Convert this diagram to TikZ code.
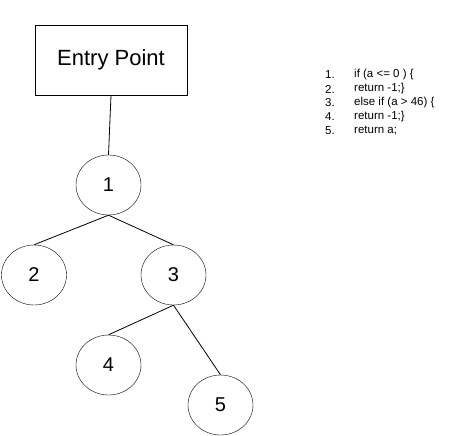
\documentclass[tikz,border=0pt]{standalone}
\usepackage{fontspec}
\setmainfont{Liberation Sans}
\usetikzlibrary{shapes.geometric}
\begin{document}
\begin{tikzpicture}[x=1pt,y=-1pt,
  vtx/.style={draw,ellipse,minimum width=65pt,minimum height=60pt,inner sep=0pt,font=\fontsize{20}{24}\selectfont},
  entrybox/.style={draw,rectangle,minimum width=152pt,minimum height=70pt,inner sep=0pt,font=\fontsize{22}{26}\selectfont},
  edge/.style={draw,line width=0.8pt},
  codenum/.style={anchor=west,inner sep=0pt,font=\fontsize{11.5}{13}\selectfont},
  codetxt/.style={anchor=west,inner sep=0pt,font=\fontsize{11.5}{13}\selectfont}]
\useasboundingbox (0,0) rectangle (463,436);
\node[entrybox] (entry) at (111,60) {Entry Point};
\node[vtx] (n1) at (108.5,185) {1};
\node[vtx] (n2) at (34,275) {2};
\node[vtx] (n3) at (173.5,275) {3};
\node[vtx] (n4) at (108.5,365) {4};
\node[vtx] (n5) at (220.5,405) {5};
\draw[edge] (entry.south) -- (n1.north);
\draw[edge] (n1.south) -- (n2.north);
\draw[edge] (n1.south) -- (n3.north);
\draw[edge] (n3.south) -- (n4.north);
\draw[edge] (n3.south) -- (n5.north);
\node[codenum] (c1n) at (325,75) {1.};
\node[codetxt] (c1t) at (354,75) {if (a <= 0 ) \{};
\node[codenum] (c2n) at (325,89) {2.};
\node[codetxt] (c2t) at (354,89) {return -1;\}};
\node[codenum] (c3n) at (325,103) {3.};
\node[codetxt] (c3t) at (354,103) {else if (a > 46) \{};
\node[codenum] (c4n) at (325,117) {4.};
\node[codetxt] (c4t) at (354,117) {return -1;\}};
\node[codenum] (c5n) at (325,131) {5.};
\node[codetxt] (c5t) at (354,131) {return a;};
\end{tikzpicture}
\end{document}
